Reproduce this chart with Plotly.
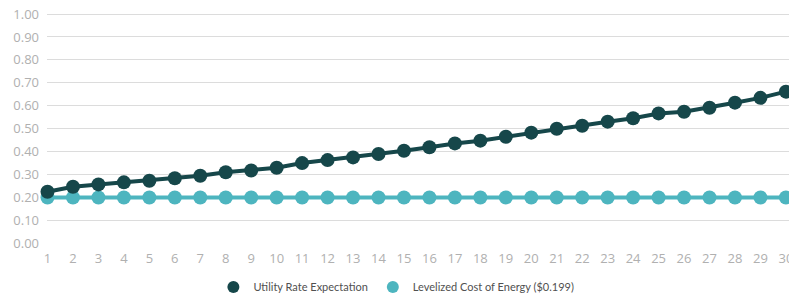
import plotly.graph_objects as go

years = list(range(1, 31))
utility_rate = [0.224, 0.246, 0.256, 0.265, 0.272, 0.283, 0.294, 0.309, 0.317, 0.329,
                0.349, 0.362, 0.374, 0.389, 0.403, 0.418, 0.435, 0.447, 0.464, 0.482,
                0.499, 0.512, 0.530, 0.545, 0.566, 0.573, 0.591, 0.613, 0.634, 0.661]
lcoe = [0.199] * 30
y_ticks = [0.0, 0.1, 0.2, 0.3, 0.4, 0.5, 0.6, 0.7, 0.8, 0.9, 1.0]
series_names = ["Utility Rate Expectation", "Levelized Cost of Energy ($0.199)"]

dark = "#16474a"
teal = "#4db5bf"

fig = go.Figure()
fig.add_trace(go.Scatter(x=years, y=lcoe, name=series_names[1], mode="lines+markers",
                         line=dict(color=teal, width=4), marker=dict(color=teal, size=14),
                         cliponaxis=False, showlegend=False))
fig.add_trace(go.Scatter(x=years, y=utility_rate, name=series_names[0], mode="lines+markers",
                         line=dict(color=dark, width=4), marker=dict(color=dark, size=14),
                         cliponaxis=False, showlegend=False))
# legend entries (circle only)
fig.add_trace(go.Scatter(x=[None], y=[None], name=series_names[0], mode="markers",
                         marker=dict(color=dark, size=12)))
fig.add_trace(go.Scatter(x=[None], y=[None], name=series_names[1], mode="markers",
                         marker=dict(color=teal, size=12)))

# page body has an 8px margin, so the figure is sized/offset to compensate
fig.update_layout(
    width=789, height=289,
    margin=dict(l=39, r=5, t=4, b=54, autoexpand=False),
    plot_bgcolor="white", paper_bgcolor="white",
    font=dict(family="Open Sans", color="#aaaaaa", size=12),
    showlegend=True,
    legend=dict(orientation="h", x=0.469, xanchor="center", yref="container", y=0.035,
                yanchor="middle", itemwidth=30,
                font=dict(family="Lato", size=11, color="#505050")),
    xaxis=dict(range=[0.98, 30.24], tickmode="array", tickvals=years, automargin=False,
               ticktext=[str(y) for y in years], showgrid=False, zeroline=False,
               showline=False, ticks="", ticklabelstandoff=6, ticklabeloverflow="allow",
               tickfont=dict(size=13, color="#b0b0b0")),
    yaxis=dict(range=[0, 1.009], tickmode="array", tickvals=y_ticks, automargin=False,
               ticktext=[f"{v:.2f}" for v in y_ticks], showgrid=True, gridcolor="#dcdcdc",
               gridwidth=1, zeroline=False, showline=False, ticks="", ticklabelstandoff=7,
               ticklabeloverflow="allow",
               tickfont=dict(size=13, color="#b0b0b0")),
)
fig.write_html("out.html")
